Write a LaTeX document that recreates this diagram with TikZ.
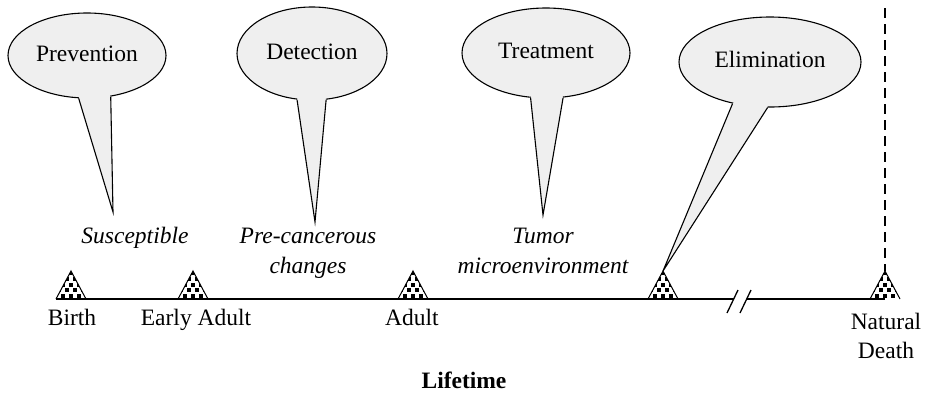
\documentclass[tikz,border=0pt]{standalone}
\usepackage{fontspec}
\setmainfont{Liberation Serif}
\usetikzlibrary{shapes.geometric,calc}
\definecolor{bub}{HTML}{EFEFEF}
\newcommand\bubtail[4]{%
  \fill[bub] (#1.#2) -- (#4) -- (#1.#3) -- ($(#1.#3)!0.15!(#1.center)$) -- ($(#1.#2)!0.15!(#1.center)$) -- cycle;
  \draw (#1.#2) -- (#4) -- (#1.#3);
}
\begin{document}
\begin{tikzpicture}[x=1pt,y=1pt,line width=1.1pt,
  font=\fontsize{23.5}{29}\selectfont,
  bubble/.style={ellipse,draw,fill=bub,inner sep=0pt,text height=15pt,text depth=4pt},
  lbl/.style={anchor=base,inner sep=0pt,align=center},
  stage/.style={anchor=base,inner sep=0pt,align=center,font=\fontsize{23.5}{30}\selectfont\itshape}]
\useasboundingbox (0,0) rectangle (931,-394);

% timeline marker positions
\coordinate (birth) at (71,-299);
\coordinate (early) at (193,-299);
\coordinate (adult) at (413,-299);
\coordinate (elim) at (663,-299);
\coordinate (death) at (885,-299);
\coordinate (elimtop) at (663,-271);
\coordinate (deathtop) at (885,-271);

% timeline markers
\foreach \x in {71,193,413,663,885}{
  \begin{scope}
    \clip (\x-15,-299) -- (\x,-271) -- (\x+15,-299) -- cycle;
    \fill[white] (\x-15,-299) rectangle (\x+15,-271);
    \foreach \j in {0,...,4}{
      \foreach \i in {-3,...,3}{
        \fill[black] ({\x+\i*8+mod(\j,2)*4-1.9},{-299+1.2+\j*5.6}) rectangle ++(3.8,3.8);
      }
    }
  \end{scope}
  \draw[line width=1pt] (\x-15,-299) -- (\x,-271) -- (\x+15,-299);
}

% timeline
\coordinate (start) at (56,-299);
\coordinate (brkL) at (734,-299);
\coordinate (brkR) at (747,-299);
\draw[line width=1.3pt] (start) -- (brkL);
\draw[line width=1.3pt] (brkR) -- (death);
\draw[line width=1.3pt] ($(brkL)+(-7,-14)$) -- ($(brkL)+(4,9)$);
\draw[line width=1.3pt] ($(brkR)+(-7,-14)$) -- ($(brkR)+(4,9)$);

% end of life dashed line
\coordinate (deathend) at (885,-8);
\draw[line width=2pt,dash pattern=on 10pt off 6pt] (deathend) -- (deathtop);

% bubbles
\node[bubble,minimum width=158pt,minimum height=85pt] (prev) at (87,-55.5) {Prevention};
\node[bubble,minimum width=150pt,minimum height=93pt] (det) at (312,-53.5) {Detection};
\node[bubble,minimum width=168pt,minimum height=90pt] (treat) at (546,-53) {Treatment};
\node[bubble,minimum width=182pt,minimum height=90pt] (elimb) at (770,-62) {Elimination};

\coordinate (prevtip) at (113,-212);
\coordinate (dettip) at (315,-222);
\coordinate (treattip) at (543,-215);
\bubtail{prev}{259}{300}{prevtip}
\bubtail{det}{252.5}{287}{dettip}
\bubtail{treat}{251.6}{291.8}{treattip}
\bubtail{elimb}{228}{267.5}{elimtop}

% stage texts (base = last line)
\node[stage] (susc) at (135,-243) {Susceptible};
\node[stage] (prec) at (308,-273) {Pre-cancerous\\changes};
\node[stage] (tumor) at (543,-273) {Tumor\\microenvironment};

% labels
\node[lbl] (birthlbl) at (72,-325.6) {Birth};
\node[lbl] (earlylbl) at (196,-325.6) {Early Adult};
\node[lbl] (adultlbl) at (412,-325.6) {Adult};
\node[lbl] (deathlbl) at (886,-358.5) {Natural\\Death};
\node[lbl,font=\fontsize{23.5}{29}\selectfont\bfseries] (life) at (464,-388) {Lifetime};
\end{tikzpicture}
\end{document}
